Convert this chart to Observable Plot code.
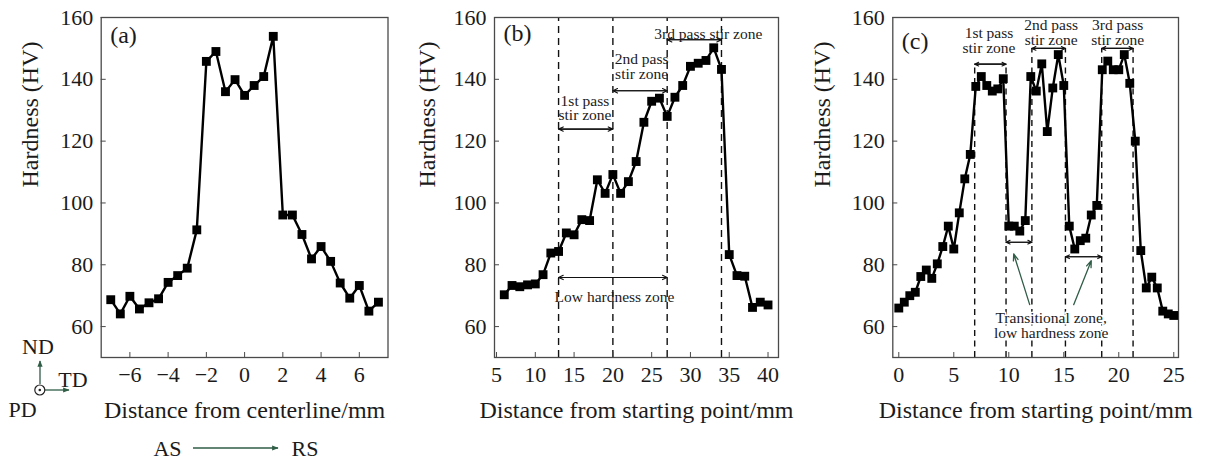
<!DOCTYPE html>
<html>
<head>
<meta charset="utf-8">
<script src="https://cdn.jsdelivr.net/npm/d3@7"></script>
<script src="https://cdn.jsdelivr.net/npm/@observablehq/plot@0.6"></script>
<style>
  body { margin: 0; background: #fff; }
  #wrap { position: relative; width: 1205px; height: 461px; overflow: hidden; background: #fff;
          font-family: "Liberation Serif", "Times New Roman", serif; }
  #wrap > svg { position: absolute; top: 0; }
</style>
</head>
<body>
<div id="wrap"></div>
<script>
// ---------------- data ----------------
const yTicks = [60, 80, 100, 120, 140, 160];

// (a) distance from centerline (mm) vs hardness
const aDist = [-7, -6.5, -6, -5.5, -5, -4.5, -4, -3.5, -3, -2.5, -2, -1.5, -1, -0.5, 0,
               0.5, 1, 1.5, 2, 2.5, 3, 3.5, 4, 4.5, 5, 5.5, 6, 6.5, 7];
const aHV = [68.7, 64.1, 69.8, 65.7, 67.7, 69.0, 74.3, 76.5, 78.9, 91.3, 145.8, 149.0, 136.0, 139.9, 134.8,
             138.0, 140.9, 153.9, 96.1, 96.1, 89.8, 81.9, 85.9, 81.1, 74.1, 69.2, 73.3, 65.0, 67.9];
const aTicks = [-6, -4, -2, 0, 2, 4, 6];

// (b) distance from starting point (mm) vs hardness
const bDist = [6, 7, 8, 9, 10, 11, 12, 13, 14, 15, 16, 17, 18, 19, 20, 21, 22, 23,
               24, 25, 26, 27, 28, 29, 30, 31, 32, 33, 34, 35, 36, 37, 38, 39, 40];
const bHV = [70.3, 73.3, 72.9, 73.5, 73.8, 76.8, 83.8, 84.3, 90.3, 89.7, 94.6, 94.3, 107.5, 103.1, 109.2, 103.1, 106.9, 113.4,
             126.1, 132.9, 133.9, 128.0, 134.2, 138.0, 144.2, 145.2, 146.1, 150.2, 143.2, 83.3, 76.5, 76.3, 66.2, 67.9, 67.0];
const bTicks = [5, 10, 15, 20, 25, 30, 35, 40];
const bBounds = [13, 20, 27, 34];
const bZoneFrom = [13, 20, 27, 13];
const bZoneTo   = [20, 27, 34, 27];
const bZoneHV   = [123.9, 136.3, 152.8, 75.9];
const bNotes    = ["1st pass\nstir zone", "2nd pass\nstir zone", "3rd pass stir zone", "Low hardness zone"];
const bNoteDist = [16.4, 23.7, 32.3, 20.2];
const bNoteHV   = [130.6, 144.1, 154.6, 69.5];

// (c) distance from starting point (mm) vs hardness
const cDist = [0, 0.5, 1, 1.5, 2, 2.5, 3, 3.5, 4, 4.5, 5, 5.5, 6, 6.5, 7, 7.5, 8, 8.5, 9, 9.5,
               10, 10.5, 11, 11.5, 12, 12.5, 13, 13.5, 14, 14.5, 15, 15.5, 16, 16.5, 17, 17.5,
               18, 18.5, 19, 19.5, 20, 20.5, 21, 21.5, 22, 22.5, 23, 23.5, 24, 24.5, 25];
const cHV = [66.0, 67.9, 70.0, 71.1, 76.2, 78.3, 75.6, 80.3, 85.9, 92.5, 85.1, 96.8, 107.8, 115.7, 137.7, 140.9, 138.0, 136.2, 136.9, 140.2,
             92.5, 92.5, 90.9, 94.3, 140.9, 136.2, 145.0, 123.1, 137.2, 148.0, 138.0, 92.5, 85.1, 87.8, 88.6, 96.1,
             99.2, 143.1, 145.9, 143.1, 143.1, 148.0, 138.7, 120.0, 84.6, 72.5, 76.0, 72.5, 65.0, 64.1, 63.6];
const cTicks = [0, 5, 10, 15, 20, 25];
const cBounds   = [6.9, 9.75, 12.1, 15.15, 18.45, 21.3];
const cBoundTop = [145, 145, 150, 150, 150, 150];
const cZoneFrom = [6.9, 12.1, 18.45, 9.75, 15.15];
const cZoneTo   = [9.75, 15.15, 21.3, 12.1, 18.45];
const cZoneHV   = [144.9, 150, 150, 87.3, 82.6];
const cNotes    = ["1st pass\nstir zone", "2nd pass\nstir zone", "3rd pass\nstir zone"];
const cNoteDist = [8.2, 13.85, 19.9];
const cNoteHV   = [152.5, 155.0, 155.0];
const cLowNote     = ["Transitional zone,\nlow hardness zone"];
const cLowNoteDist = [13.85];
const cLowNoteHV   = [60.35];
const cPointerFromDist = [11.9, 15.9];
const cPointerFromHV   = [67.1, 67.1];
const cPointerToDist   = [10.45, 17.5];
const cPointerToHV     = [83.5, 81.3];

// ---------------- drawing ----------------
const FONT = "'Liberation Serif', 'Times New Roman', serif";
const INK = "#1b1b1b";
const GREEN = "#2f5d46";
const wrap = document.getElementById("wrap");
const minusFmt = d => (d < 0 ? "\u2212" + Math.abs(d) : String(d));
const zip = (xs, ys) => xs.map((x, i) => ({x, y: ys[i]}));

function panel({left, width, ml, mr, xDomain, xTicks, xLabel, tag, tagDy, yLabelDx, series, extra}) {
  const svg = Plot.plot({
    width, height: 461,
    marginLeft: ml, marginRight: mr, marginTop: 17, marginBottom: 104,
    style: {fontFamily: FONT, fontSize: "22px", color: INK, background: "transparent", overflow: "visible"},
    x: {domain: xDomain},
    y: {domain: [50, 160]},
    marks: [
      ...extra,
      Plot.frame({stroke: "#4a4a4a", strokeWidth: 1.3}),
      Plot.axisX({ticks: xTicks, tickSize: -5, tickPadding: 14, tickFormat: minusFmt, label: null,
                  fontSize: 22, stroke: "#4a4a4a", fill: INK}),
      Plot.axisY({ticks: yTicks, tickSize: -5, tickPadding: 13, label: null,
                  fontSize: 22, stroke: "#4a4a4a", fill: INK}),
      Plot.line(series, {x: "x", y: "y", stroke: "#000", strokeWidth: 2.4}),
      Plot.dot(series, {x: "x", y: "y", symbol: "square", r: 5, fill: "#000", stroke: "none"}),
      Plot.text([xLabel], {text: d => d, frameAnchor: "bottom", dy: 53, fontSize: 24, lineAnchor: "middle", fill: INK}),
      Plot.text(["Hardness (HV)"], {text: d => d, frameAnchor: "left", dx: yLabelDx, rotate: -90, fontSize: 24, fill: INK}),
      Plot.text([tag], {text: d => d, frameAnchor: "top-left", dx: 9, dy: tagDy, textAnchor: "start",
                        lineAnchor: "middle", fontSize: 24, fill: INK})
    ]
  });
  svg.style.left = left + "px";
  wrap.appendChild(svg);
}

const noteFont = {fontSize: 15.5, fill: INK, lineHeight: 0.95, lineAnchor: "middle"};

// (a)
panel({
  left: 0, width: 400, ml: 100.7, mr: 12.5,
  xDomain: [-7.5, 7.5], xTicks: aTicks, xLabel: "Distance from centerline/mm",
  tag: "(a)", tagDy: 18, yLabelDx: -71,
  series: zip(aDist, aHV), extra: []
});

// (b)
const bZones = bZoneFrom.map((f, i) => ({f, t: bZoneTo[i], y: bZoneHV[i]}));
const bNoteData = bNotes.map((s, i) => ({s, x: bNoteDist[i], y: bNoteHV[i]}));
panel({
  left: 400, width: 395, ml: 94, mr: 17,
  xDomain: [4.74, 41.35], xTicks: bTicks, xLabel: "Distance from starting point/mm",
  tag: "(b)", tagDy: 16, yLabelDx: -67,
  series: zip(bDist, bHV),
  extra: [
    Plot.ruleX(bBounds, {x: d => d, y1: 50, y2: 160, stroke: "#111", strokeWidth: 1.4, strokeDasharray: "7,5"}),
    Plot.arrow(bZones, {x1: "f", x2: "t", y1: "y", y2: "y", stroke: "#111", strokeWidth: 1.1, headLength: 7, headAngle: 50}),
    Plot.arrow(bZones, {x1: "t", x2: "f", y1: "y", y2: "y", stroke: "#111", strokeWidth: 1.1, headLength: 7, headAngle: 50}),
    Plot.text(bNoteData, {x: "x", y: "y", text: "s", ...noteFont})
  ]
});

// (c)
const cBoundData = cBounds.map((x, i) => ({x, top: cBoundTop[i]}));
const cZones = cZoneFrom.map((f, i) => ({f, t: cZoneTo[i], y: cZoneHV[i]}));
const cNoteData = cNotes.map((s, i) => ({s, x: cNoteDist[i], y: cNoteHV[i]}));
const cLowData = cLowNote.map((s, i) => ({s, x: cLowNoteDist[i], y: cLowNoteHV[i]}));
const cPointers = cPointerFromDist.map((x1, i) => ({x1, y1: cPointerFromHV[i], x2: cPointerToDist[i], y2: cPointerToHV[i]}));
panel({
  left: 795, width: 410, ml: 97.3, mr: 27,
  xDomain: [-0.545, 25.43], xTicks: cTicks, xLabel: "Distance from starting point/mm",
  tag: "(c)", tagDy: 24, yLabelDx: -70,
  series: zip(cDist, cHV),
  extra: [
    Plot.ruleX(cBoundData, {x: "x", y1: 50, y2: "top", stroke: "#111", strokeWidth: 1.4, strokeDasharray: "6,4.5"}),
    Plot.arrow(cZones, {x1: "f", x2: "t", y1: "y", y2: "y", stroke: "#111", strokeWidth: 1.1, headLength: 6, headAngle: 50}),
    Plot.arrow(cZones, {x1: "t", x2: "f", y1: "y", y2: "y", stroke: "#111", strokeWidth: 1.1, headLength: 6, headAngle: 50}),
    Plot.arrow(cPointers, {x1: "x1", y1: "y1", x2: "x2", y2: "y2", stroke: GREEN, strokeWidth: 1.3, headLength: 8, headAngle: 40}),
    Plot.text(cNoteData, {x: "x", y: "y", text: "s", ...noteFont}),
    Plot.text(cLowData, {x: "x", y: "y", text: "s", ...noteFont, stroke: "#fff", strokeWidth: 3, paintOrder: "stroke"})
  ]
});

// orientation glyph and AS -> RS (decoration outside the plot frames)
const deco = d3.select(wrap).append("svg")
  .attr("width", 400).attr("height", 461)
  .style("left", "0px").style("pointer-events", "none");
const defs = deco.append("defs");
defs.append("marker").attr("id", "hd").attr("viewBox", "0 0 10 10").attr("refX", 9).attr("refY", 5)
  .attr("markerWidth", 5).attr("markerHeight", 5).attr("orient", "auto")
  .append("path").attr("d", "M0,1 L10,5 L0,9 z").attr("fill", GREEN);
const tx = (x, y, s, anchor = "middle") => deco.append("text").attr("x", x).attr("y", y)
  .attr("text-anchor", anchor).attr("dominant-baseline", "central")
  .attr("font-family", FONT).attr("font-size", 22).attr("fill", INK).text(s);
tx(38, 346, "ND");
tx(73, 379, "TD");
tx(22.5, 409, "PD");
tx(167.5, 448, "AS");
tx(305, 448, "RS");
deco.append("line").attr("x1", 40).attr("y1", 384).attr("x2", 40).attr("y2", 361)
  .attr("stroke", GREEN).attr("stroke-width", 1.3).attr("marker-end", "url(#hd)");
deco.append("line").attr("x1", 45).attr("y1", 390).attr("x2", 69).attr("y2", 390)
  .attr("stroke", GREEN).attr("stroke-width", 1.3).attr("marker-end", "url(#hd)");
deco.append("circle").attr("cx", 39.8).attr("cy", 390).attr("r", 5).attr("fill", "none").attr("stroke", "#222").attr("stroke-width", 1.2);
deco.append("circle").attr("cx", 39.8).attr("cy", 390).attr("r", 1.3).attr("fill", "#222");
deco.append("line").attr("x1", 193).attr("y1", 448).attr("x2", 278).attr("y2", 448)
  .attr("stroke", GREEN).attr("stroke-width", 1.3).attr("marker-end", "url(#hd)");
</script>
</body>
</html>
